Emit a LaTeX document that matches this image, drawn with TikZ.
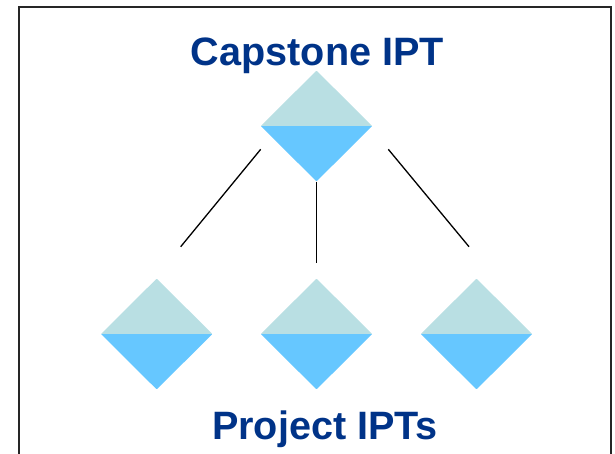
\documentclass[tikz,border=0pt]{standalone}
\usepackage{fontspec}
\setmainfont{Liberation Sans}
\usetikzlibrary{shapes.geometric}
\definecolor{topc}{RGB}{185,223,227}
\definecolor{botc}{RGB}{102,199,255}
\definecolor{navy}{RGB}{0,51,136}
\begin{document}
\begin{tikzpicture}[x=1pt,y=-1pt,
  ipt/.style={diamond, shape aspect=1, minimum width=111.5pt, minimum height=111pt, inner sep=0pt,
    path picture={
      \fill[topc] (path picture bounding box.north west) rectangle (path picture bounding box.east);
      \fill[botc] (path picture bounding box.west) rectangle (path picture bounding box.south east);}},
  title/.style={text=navy, font=\fontsize{39.6}{46}\selectfont\bfseries, anchor=base, inner sep=0pt},
  link/.style={draw=black, line width=1.3pt}]
\useasboundingbox (0,0) rectangle (615,453);
\clip (0,0) rectangle (615,453);
\draw[line width=1.6pt, draw=black!85] (19,7) rectangle (611,470);
\node[title] (cap) at (317.5,65) {Capstone IPT};
\node[title] (proj) at (325,439) {Project IPTs};
\node[ipt] (top) at (316.5,126) {};
\node[ipt] (b1) at (156.7,334) {};
\node[ipt] (b2) at (316.5,334) {};
\node[ipt] (b3) at (476.5,334) {};
\coordinate (l1) at (260.7,149.3);
\coordinate (l2) at (180.7,246.7);
\coordinate (m2) at (316.5,262.7);
\coordinate (r1) at (388.3,149.3);
\coordinate (r2) at (469,246.7);
\draw[link] (l1) -- (l2);
\draw[link] (top.south) -- (m2);
\draw[link] (r1) -- (r2);
\end{tikzpicture}
\end{document}
